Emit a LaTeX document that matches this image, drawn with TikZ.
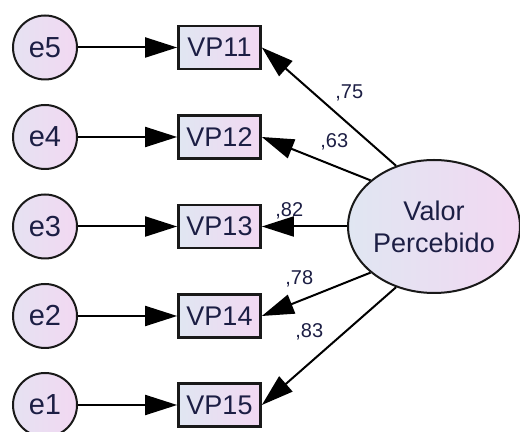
\documentclass[tikz,border=0pt]{standalone}
\usepackage{fontspec}
\setmainfont{Liberation Sans}
\usetikzlibrary{arrows.meta,shapes.geometric}

\definecolor{inkc}{RGB}{28,30,68}
\definecolor{edgec}{RGB}{25,25,25}
\definecolor{fillL}{RGB}{224,230,242}
\definecolor{fillR}{RGB}{242,216,242}

\tikzset{
  errvar/.style={circle, draw=edgec, line width=1pt, minimum size=32pt, inner sep=0pt,
    left color=fillL!70!fillR, right color=fillR, text=inkc,
    font=\fontsize{14.5pt}{16pt}\selectfont},
  obsvar/.style={rectangle, draw=edgec, line width=1.35pt, minimum width=41pt,
    minimum height=21.5pt, inner sep=0pt, left color=fillL, right color=fillR,
    text=inkc, font=\fontsize{13.5pt}{16pt}\selectfont},
  latvar/.style={ellipse, draw=edgec, line width=1pt, minimum width=84pt,
    minimum height=66.5pt, inner sep=0pt, left color=fillL, right color=fillR,
    text=inkc, align=center, font=\fontsize{13.5pt}{16pt}\selectfont},
  path/.style={draw=black, line width=1pt,
    -{Triangle[length=16pt,width=10pt]}},
  coef/.style={anchor=base west, inner sep=0pt, text=inkc,
    font=\fontsize{10pt}{12pt}\selectfont}
}

\begin{document}
\begin{tikzpicture}[x=0.5pt, y=-0.5pt]
  \useasboundingbox (0,0) rectangle (520,432);

  % error terms
  \node[errvar] (e5) at (45,47.5) {e5};
  \node[errvar] (e4) at (45,137)  {e4};
  \node[errvar] (e3) at (45,226.5){e3};
  \node[errvar] (e2) at (45,316)  {e2};
  \node[errvar] (e1) at (45,405)  {e1};

  % indicators
  \node[obsvar] (vp11) at (219.5,47.5) {VP11};
  \node[obsvar] (vp12) at (219.5,137)  {VP12};
  \node[obsvar] (vp13) at (219.5,226.5){VP13};
  \node[obsvar] (vp14) at (219.5,316)  {VP14};
  \node[obsvar] (vp15) at (219.5,405)  {VP15};

  % latent factor
  \node[latvar] (vp) at (434,226.5) {Valor\\Percebido};

  % error paths
  \draw[path] (e5) -- (vp11);
  \draw[path] (e4) -- (vp12);
  \draw[path] (e3) -- (vp13);
  \draw[path] (e2) -- (vp14);
  \draw[path] (e1) -- (vp15);

  % loadings
  \draw[path] (vp.122) -- (vp11.east);
  \draw[path] (vp.144) -- (vp12.east);
  \draw[path] (vp.180) -- (vp13.east);
  \draw[path] (vp.216) -- (vp14.east);
  \draw[path] (vp.238) -- (vp15.east);

  % standardized coefficients
  \node[coef] (c11) at (335,99)  {,75};
  \node[coef] (c12) at (320,148) {,63};
  \node[coef] (c13) at (275,217) {,82};
  \node[coef] (c14) at (285,285) {,78};
  \node[coef] (c15) at (295,338) {,83};
\end{tikzpicture}
\end{document}
